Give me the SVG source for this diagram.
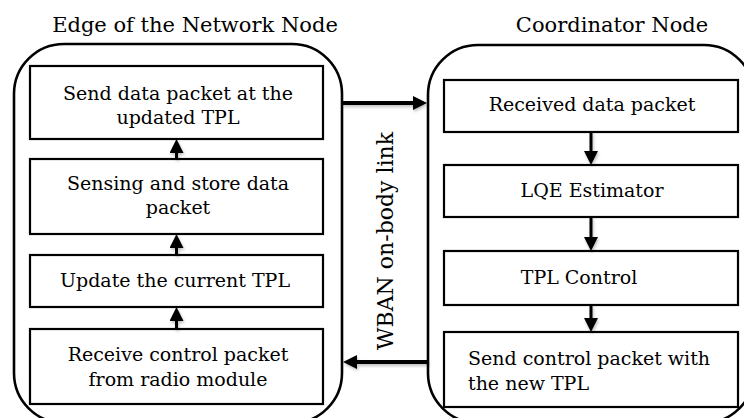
<svg xmlns="http://www.w3.org/2000/svg" width="744" height="418" viewBox="0 0 744 418">
  <defs>
    <marker id="head" viewBox="0 0 14 14" markerWidth="14" markerHeight="14" refX="4" refY="7" orient="auto" markerUnits="userSpaceOnUse">
      <path d="M0,0 L14,7 L0,14 z" fill="#000"/>
    </marker>
    <!-- soft drop shadow under the arrows; user-space region so zero-height lines still render -->
    <filter id="soft" filterUnits="userSpaceOnUse" x="0" y="0" width="744" height="418">
      <feDropShadow dx="1" dy="2" stdDeviation="1.5" flood-color="#000" flood-opacity="0.25"/>
    </filter>
    <style>
      .title { font-family: "DejaVu Serif", "Liberation Serif", serif; font-size: 21px; fill: #000; text-anchor: middle; }
      .label { font-family: "DejaVu Serif", "Liberation Serif", serif; font-size: 19px; fill: #000; text-anchor: middle; }
      .left { text-anchor: start; }
      .link { font-family: "DejaVu Serif", "Liberation Serif", serif; font-size: 22px; fill: #000; text-anchor: middle; }
      .container { fill: #fff; stroke: #000; stroke-width: 2.6; }
      .box { fill: #fff; stroke: #000; stroke-width: 2.2; }
      .flow { stroke: #000; stroke-width: 3; fill: none; marker-end: url(#head); }
      .wire { stroke: #000; stroke-width: 4; fill: none; marker-end: url(#head); }
    </style>
  </defs>

  <rect width="744" height="418" fill="#fff"/>

  <!-- section headings -->
  <text class="title" x="195" y="32">Edge of the Network Node</text>
  <text class="title" x="612" y="32">Coordinator Node</text>

  <!-- edge-of-network node and its steps -->
  <g id="edge-node">
    <rect class="container" x="14" y="44" width="328" height="379" rx="50" ry="50"/>
  </g>
  <g id="send-data">
    <rect class="box" x="30" y="66" width="293" height="73"/>
    <text class="label" x="178" y="100">Send data packet at the</text>
    <text class="label" x="178" y="124">updated TPL</text>
  </g>
  <g id="sensing">
    <rect class="box" x="30" y="159" width="293" height="75"/>
    <text class="label" x="178" y="190">Sensing and store data</text>
    <text class="label" x="178" y="214">packet</text>
  </g>
  <g id="update-tpl">
    <rect class="box" x="30" y="255" width="293" height="52"/>
    <text class="label" x="175" y="287">Update the current TPL</text>
  </g>
  <g id="receive-control">
    <rect class="box" x="30" y="329" width="293" height="75"/>
    <text class="label" x="178" y="361">Receive control packet</text>
    <text class="label" x="178" y="386">from radio module</text>
  </g>

  <!-- coordinator node and its steps -->
  <g id="coordinator-node">
    <rect class="container" x="428" y="45" width="326" height="378" rx="50" ry="50"/>
  </g>
  <g id="received-data">
    <rect class="box" x="444" y="80" width="294" height="52"/>
    <text class="label" x="592" y="111">Received data packet</text>
  </g>
  <g id="lqe">
    <rect class="box" x="444" y="165" width="294" height="52"/>
    <text class="label" x="592" y="197">LQE Estimator</text>
  </g>
  <g id="tpl-control">
    <rect class="box" x="444" y="251" width="294" height="54"/>
    <text class="label" x="579" y="284">TPL Control</text>
  </g>
  <g id="send-control">
    <rect class="box" x="444" y="332" width="294" height="75"/>
    <text class="label left" x="468" y="365">Send control packet with</text>
    <text class="label left" x="468" y="390">the new TPL</text>
  </g>

  <!-- radio link label -->
  <text class="link" transform="translate(393,241) rotate(-90)">WBAN on-body link</text>

  <!-- connectors -->
  <g id="connectors" filter="url(#soft)">
    <line class="flow" x1="176.5" y1="159" x2="176.5" y2="149"/>
    <line class="flow" x1="176.5" y1="255" x2="176.5" y2="244"/>
    <line class="flow" x1="176.5" y1="329" x2="176.5" y2="317"/>
    <line class="flow" x1="591" y1="132" x2="591" y2="155"/>
    <line class="flow" x1="591" y1="217" x2="591" y2="241"/>
    <line class="flow" x1="591" y1="305" x2="591" y2="322"/>
    <line class="wire" x1="342" y1="103" x2="417" y2="103"/>
    <line class="wire" x1="428" y1="362" x2="353" y2="362"/>
  </g>
</svg>
